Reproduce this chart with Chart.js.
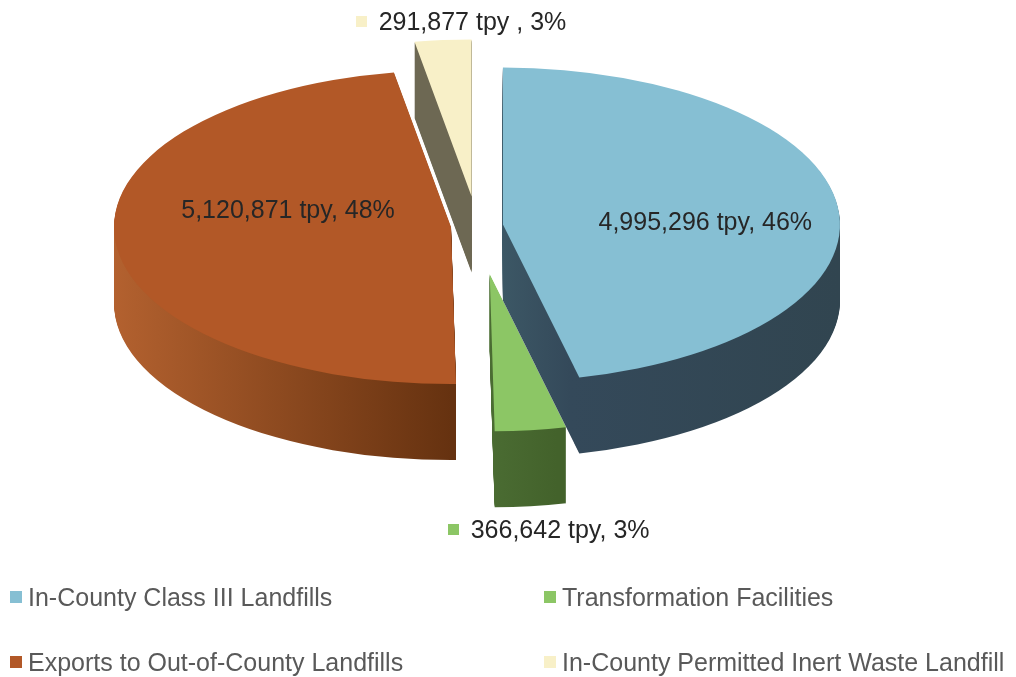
<!DOCTYPE html>
<html>
<head>
<meta charset="utf-8">
<script src="https://cdn.jsdelivr.net/npm/chart.js@4.4.0/dist/chart.umd.min.js"></script>
<style>
  body { margin: 0; background: #fff; }
  #wrap { position: relative; width: 1016px; height: 677px; overflow: hidden; }
  #pie { position: absolute; left: 0; top: 0; }
  .key { position: absolute; font: 25px "Liberation Sans", Arial, sans-serif; color: #595959; line-height: 30px; white-space: nowrap; }
  .key i { position: absolute; width: 12px; height: 12px; top: 9px; }
</style>
</head>
<body>
<div id="wrap">
  <canvas id="pie" width="1016" height="677"></canvas>
</div>
<script>
/* =========================
   DATA
========================= */
const categories = [
  "In-County Class III Landfills",
  "Transformation Facilities",
  "Exports to Out-of-County Landfills",
  "In-County Permitted Inert Waste Landfill"
];
const tonsPerYear = [4995296, 366642, 5120871, 291877];
const valueLabels = [
  "4,995,296 tpy, 46%",
  "366,642 tpy, 3%",
  "5,120,871 tpy, 48%",
  "291,877 tpy , 3%"
];

/* =========================
   LOOK
========================= */
const TOP_COLORS = ["#86bfd3", "#8cc665", "#b25827", "#f8f0c8"];
// side wall colours, stops across the pie width (0 = left edge, 1 = right edge)
const SIDE_STOPS = [
  [[0.5, "#3c5765"], [0.6, "#34495a"], [1, "#314550"]],
  [[0.4, "#52763a"], [0.6, "#43622b"]],
  [[0, "#b3612f"], [0.5, "#663210"]],
  [[0, "#6d6853"], [1, "#6d6853"]]
];
const DRAW_ORDER = [3, 1, 2, 0];   // back to front
const EXPLODE = [26, 50, 26, 30];  // px pulled out from centre
const CX = 477, CY = 226, RX = 337, RY = 157, DEPTH = 76;
const LABEL_R = [0.57, 0, 0.52, 0];
const LABEL_DY = [8, 0, -25, 0];
const FONT = '25px "Liberation Sans", Arial, sans-serif';

function geom(chart, arc, i) {
  const R = arc.outerRadius;
  const sx = RX / R, sy = RY / R;
  const mid = (arc.startAngle + arc.endAngle) / 2;
  const dx = Math.cos(mid) * RX, dy = Math.sin(mid) * RY;
  const len = Math.hypot(dx, dy);
  return {
    sx, sy, mid,
    tx: CX - sx * arc.x,
    ty: CY - sy * arc.y,
    ox: dx / len * EXPLODE[i],
    oy: dy / len * EXPLODE[i]
  };
}

/* =========================
   3D PIE PLUGIN
========================= */
const pie3d = {
  id: "pie3d",
  beforeDatasetsDraw(chart) {
    const ctx = chart.ctx;
    const arcs = chart.getDatasetMeta(0).data;
    DRAW_ORDER.forEach(i => {
      const arc = arcs[i];
      const g = geom(chart, arc, i);
      const R = arc.outerRadius;
      const grad = ctx.createLinearGradient(arc.x - R, 0, arc.x + R, 0);
      SIDE_STOPS[i].forEach(s => grad.addColorStop(s[0], s[1]));
      const saved = arc.options;
      for (let d = DEPTH; d >= 0; d--) {
        ctx.save();
        ctx.setTransform(g.sx, 0, 0, g.sy, g.tx + g.ox, g.ty + g.oy + d);
        arc.options = Object.assign({}, saved, {
          backgroundColor: d ? grad : TOP_COLORS[i],
          offset: 0,
          borderWidth: 0
        });
        arc.draw(ctx);
        ctx.restore();
      }
      arc.options = saved;
    });
    return false;
  },
  afterDraw(chart) {
    const ctx = chart.ctx;
    const arcs = chart.getDatasetMeta(0).data;
    ctx.save();
    ctx.font = FONT;
    ctx.textBaseline = "middle";
    arcs.forEach((arc, i) => {
      const g = geom(chart, arc, i);
      const c = Math.cos(g.mid), s = Math.sin(g.mid);
      const bx = CX + g.ox, by = CY + g.oy;
      let x, y;
      if (LABEL_R[i]) {
        x = bx + c * RX * LABEL_R[i];
        y = by + s * RY * LABEL_R[i] + LABEL_DY[i];
      } else {
        x = bx + c * RX + 18;
        y = by + s * RY + (s > 0 ? DEPTH + 24 : -18);
      }
      const tw = ctx.measureText(valueLabels[i]).width;
      const left = x - (11 + 12 + tw) / 2;
      ctx.fillStyle = TOP_COLORS[i];
      ctx.fillRect(Math.round(left), Math.round(y - 6), 11, 11);
      ctx.fillStyle = "#262626";
      ctx.fillText(valueLabels[i], left + 23, y + 1);
    });
    ctx.restore();
  }
};

new Chart(document.getElementById("pie"), {
  type: "pie",
  data: {
    labels: categories,
    datasets: [{
      data: tonsPerYear,
      backgroundColor: TOP_COLORS,
      borderWidth: 0
    }]
  },
  options: {
    responsive: false,
    animation: false,
    events: [],
    plugins: {
      legend: { display: false },
      tooltip: { enabled: false }
    }
  },
  plugins: [pie3d]
});

/* =========================
   LEGEND
========================= */
const wrap = document.getElementById("wrap");
const KEY_X = [28, 562], KEY_Y = [597, 662];
categories.forEach((name, i) => {
  const el = document.createElement("div");
  el.className = "key";
  el.style.left = KEY_X[i % 2] + "px";
  el.style.top = (KEY_Y[Math.floor(i / 2)] - 15) + "px";
  el.innerHTML = '<i style="left:-18px;background:' + TOP_COLORS[i] + '"></i>';
  el.appendChild(document.createTextNode(name));
  wrap.appendChild(el);
});
</script>
</body>
</html>
